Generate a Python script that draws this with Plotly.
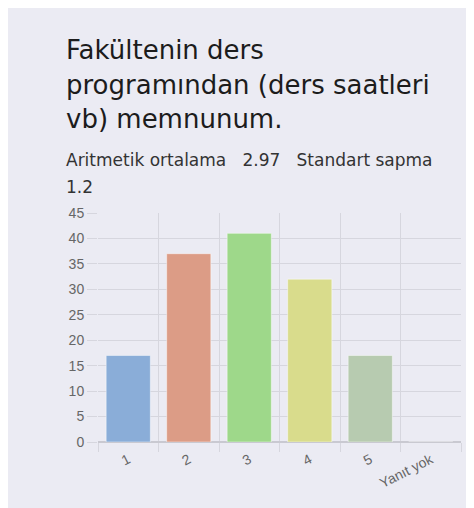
import plotly.graph_objects as go

# data
categories = ["1", "2", "3", "4", "5", "Yanıt yok"]
counts = [17, 37, 41, 32, 17, 0]
bar_colors = ["#8aadd8", "#dc9c86", "#9ed88a", "#d9dc8c", "#b7cbb0", "#cccccc"]
title_lines = ["Fakültenin ders", "programından (ders saatleri", "vb) memnunum."]
stats_line = "Aritmetik ortalama   2.97   Standart sapma"
stats_line2 = "1.2"

W, H = 474, 508
L, R, T, B = 90, 21, 205, 74
pw, ph = W - L - R, H - T - B


def px_x(p):
    return (p - L) / pw


def px_y(p):
    return (H - B - p) / ph


# bar centres on a numeric axis so the grid can sit on category boundaries
xs = [i + 0.5 for i in range(len(categories))]

fig = go.Figure()
fig.add_trace(go.Bar(
    x=xs, y=counts, width=0.73,
    marker=dict(color=bar_colors, line=dict(color="rgba(255,255,255,0.45)", width=1)),
    hoverinfo="skip",
))

grid = "#d6d6de"
tickfont = dict(family="Liberation Sans, Arial", size=14, color="#666666")

fig.update_xaxes(
    range=[0, len(categories)],
    tickmode="array", tickvals=xs, ticktext=categories,
    tickangle=-27, tickfont=tickfont,
    showgrid=False, zeroline=False, showline=False, ticks="",
    ticklabelstandoff=6,
    minor=dict(tickmode="array", tickvals=list(range(len(categories) + 1)),
               showgrid=True, gridcolor=grid, gridwidth=1,
               ticks="outside", ticklen=9, tickcolor=grid),
)
fig.update_yaxes(
    range=[0, 45], dtick=5, tickfont=tickfont,
    showgrid=True, gridcolor=grid, gridwidth=1,
    zeroline=True, zerolinecolor="#c9c9d1", zerolinewidth=1.5,
    ticks="outside", ticklen=10, tickcolor=grid,
)

title_font = dict(family="DejaVu Sans", size=26, color="#1c1c1c")
for line, ypix in zip(title_lines, [42, 77, 111]):
    fig.add_annotation(text=line, xref="paper", yref="paper",
                       x=px_x(56), y=px_y(ypix), xanchor="left", yanchor="middle",
                       showarrow=False, font=title_font)

sub_font = dict(family="DejaVu Sans", size=17, color="#333333")
for line, ypix in zip([stats_line, stats_line2], [152, 179]):
    fig.add_annotation(text=line.replace("   ", "&nbsp;&nbsp;&nbsp;"), xref="paper", yref="paper",
                       x=px_x(56), y=px_y(ypix), xanchor="left", yanchor="middle",
                       showarrow=False, font=sub_font)

fig.update_layout(
    width=W, height=H,
    margin=dict(l=L, r=R, t=T, b=B),
    paper_bgcolor="#ebebf3", plot_bgcolor="rgba(0,0,0,0)",
    showlegend=False, bargap=0.27,
)

fig.write_html("out.html")
